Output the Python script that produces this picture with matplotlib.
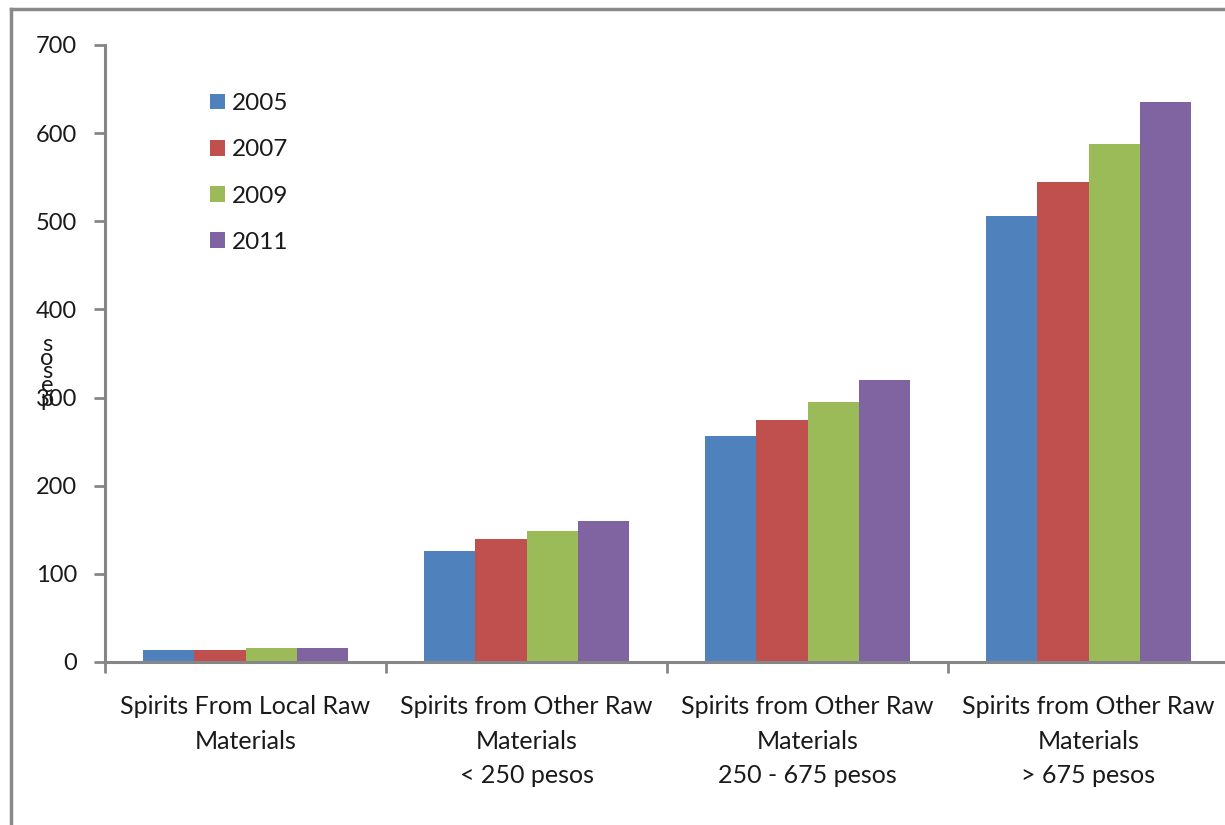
import matplotlib
matplotlib.use("Agg")
import matplotlib.pyplot as plt
import numpy as np
from matplotlib.lines import Line2D

categories = [
    "Spirits From Local Raw\nMaterials",
    "Spirits from Other Raw\nMaterials\n< 250 pesos",
    "Spirits from Other Raw\nMaterials\n250 - 675 pesos",
    "Spirits from Other Raw\nMaterials\n> 675 pesos",
]
years = ["2005", "2007", "2009", "2011"]
v2005 = [14, 126, 256, 506]
v2007 = [14, 140, 275, 545]
v2009 = [16, 149, 295, 588]
v2011 = [16, 160, 320, 635]
series = [v2005, v2007, v2009, v2011]
colors = ["#4F81BD", "#C0504D", "#9BBB59", "#8064A2"]
yticks = [0, 100, 200, 300, 400, 500, 600, 700]

plt.rcParams['font.family'] = ['Lato', 'DejaVu Sans']

W, H = 1225, 825
fig = plt.figure(figsize=(W / 100, H / 100), dpi=100)
ax = fig.add_axes([105 / W, 1 - 662 / H, (1229 - 105) / W, (662 - 45) / H])

axis_gray = "#868686"
x = np.arange(len(categories))
bw = 1 / 5.5
for i, (vals, c, yr) in enumerate(zip(series, colors, years)):
    ax.bar(x + (i - 1.5) * bw, vals, width=bw, color=c, label=yr, zorder=2)

ax.set_xlim(-0.5, len(categories) - 0.5)
ax.set_ylim(0, 700)
ax.set_yticks(yticks)
ax.set_yticklabels([str(t) for t in yticks], fontsize=17, color="#1a1a1a")
ax.set_xticks(x)
ax.set_xticklabels(categories, fontsize=18, color="#1a1a1a", linespacing=1.6)
ax.set_xticks(np.arange(-0.5, len(categories), 1.0), minor=True)
ax.tick_params(axis='x', which='major', length=0, pad=24)
ax.tick_params(axis='x', which='minor', length=8, width=2, color=axis_gray, direction='out')
ax.tick_params(axis='y', which='major', length=8, width=2, color=axis_gray, direction='out', pad=12)

for s in ["top", "right"]:
    ax.spines[s].set_visible(False)
for s in ["left", "bottom"]:
    ax.spines[s].set_color(axis_gray)
    ax.spines[s].set_linewidth(2.2)

# y-axis label (letters stacked)
fig.text(47 / W, 1 - 372 / H, "s\no\ns\ne\np", ha="center", va="center",
         fontsize=17, linespacing=0.58, color="#1a1a1a")

leg = ax.legend(loc="upper left", bbox_to_anchor=(210 / W, 1 - 93 / H),
                bbox_transform=fig.transFigure, frameon=False, fontsize=17.5,
                handlelength=0.62, handleheight=0.62, handletextpad=0.3,
                labelspacing=1.04, borderaxespad=0, borderpad=0)
for t in leg.get_texts():
    t.set_color("#1a1a1a")

# outer chart border (cropped)
border = "#8a8a8a"
fig.add_artist(Line2D([11 / W, 1.05], [1 - 9 / H, 1 - 9 / H], color=border, lw=2.5, transform=fig.transFigure))
fig.add_artist(Line2D([11 / W, 11 / W], [1 - 9 / H, -0.05], color=border, lw=2.5, transform=fig.transFigure))

fig.savefig("out.png", dpi=100)
